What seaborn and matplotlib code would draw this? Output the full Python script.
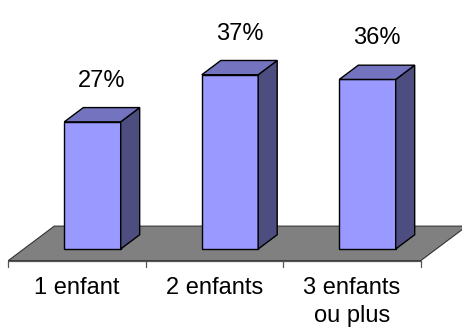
import matplotlib
matplotlib.use("Agg")
import matplotlib.pyplot as plt
from matplotlib.patches import Polygon
import numpy as np
import pandas as pd
import seaborn as sns

categories = ["1 enfant", "2 enfants", "3 enfants\nou plus"]
values = [27, 37, 36]
value_labels = ["27%", "37%", "36%"]

FRONT = "#9999FF"
SIDE = "#4D4D80"
TOP = "#7373BF"
FLOOR = "#808080"

sns.set_theme(style="white")
plt.rcParams["font.family"] = ["Liberation Sans", "DejaVu Sans"]

DPI = 100
fig = plt.figure(figsize=(4.62, 3.29), dpi=DPI)
ax = fig.add_axes([0, 0, 1, 1])
ax.set_axis_off()

df = pd.DataFrame({"cat": categories, "val": values})
sns.barplot(data=df, x="cat", y="val", color=FRONT, saturation=1, width=0.41,
            edgecolor="black", linewidth=1.0, ax=ax, zorder=3)

# bar front plane: 137.5 px per category, 4.71 px per percentage point
ax.set_xlim(-92.5 / 137.5, (462 - 92.5) / 137.5)
ax.set_ylim(-80 / 4.71, (329 - 80) / 4.71)

SLOPE = 0.75      # oblique depth direction (dy/dx)
BAR_DEPTH = 19    # px
FLOOR_FRONT = -15.5
FLOOR_BACK = 30.5


def shift(x, y, dx_px, dy_px=0.0):
    """Move a data point by an oblique depth offset given in pixels."""
    disp = ax.transData.transform((x, y))
    disp = disp + np.array([dx_px, SLOPE * dx_px + dy_px])
    return ax.transData.inverted().transform(disp)


# floor
n = len(categories)
floor = [shift(-0.5, 0, FLOOR_FRONT), shift(n - 0.5, 0, FLOOR_FRONT),
         shift(n - 0.5, 0, FLOOR_BACK), shift(-0.5, 0, FLOOR_BACK)]
ax.add_patch(Polygon(floor, closed=True, facecolor=FLOOR, edgecolor="#333333",
                     linewidth=0.8, zorder=1))

# category axis along the front edge of the floor
p0, p1 = shift(-0.5, 0, FLOOR_FRONT), shift(n - 0.5, 0, FLOOR_FRONT)
ax.plot([p0[0], p1[0]], [p0[1], p1[1]], color="#555555", lw=0.9, zorder=2)
for k in range(n + 1):
    a = shift(k - 0.5, 0, FLOOR_FRONT)
    b = shift(k - 0.5, 0, FLOOR_FRONT, -6)
    ax.plot([a[0], b[0]], [a[1], b[1]], color="#555555", lw=0.9, zorder=2)

# depth faces of each bar
for p in ax.patches[:]:
    if not hasattr(p, "get_width"):
        continue
    x0, w, h, y0 = p.get_x(), p.get_width(), p.get_height(), p.get_y()
    side = [(x0 + w, y0), (x0 + w, y0 + h),
            shift(x0 + w, y0 + h, BAR_DEPTH), shift(x0 + w, y0, BAR_DEPTH)]
    top = [(x0, y0 + h), (x0 + w, y0 + h),
           shift(x0 + w, y0 + h, BAR_DEPTH), shift(x0, y0 + h, BAR_DEPTH)]
    ax.add_patch(Polygon(side, closed=True, facecolor=SIDE, edgecolor="black",
                         linewidth=1.0, zorder=3))
    ax.add_patch(Polygon(top, closed=True, facecolor=TOP, edgecolor="black",
                         linewidth=1.0, zorder=3))

# value labels above the bars
for i, (v, lab) in enumerate(zip(values, value_labels)):
    pos = shift(i, v, BAR_DEPTH / 2, 23)
    ax.text(pos[0], pos[1], lab, ha="center", va="bottom", fontsize=17,
            color="black", zorder=5)

# category labels below the front edge
for i, cat in enumerate(categories):
    pos = shift(i, 0, FLOOR_FRONT, -16)
    ax.text(pos[0], pos[1], cat, ha="center", va="top", fontsize=17,
            color="black", linespacing=1.35, zorder=5)

fig.savefig("out.png", dpi=DPI)
